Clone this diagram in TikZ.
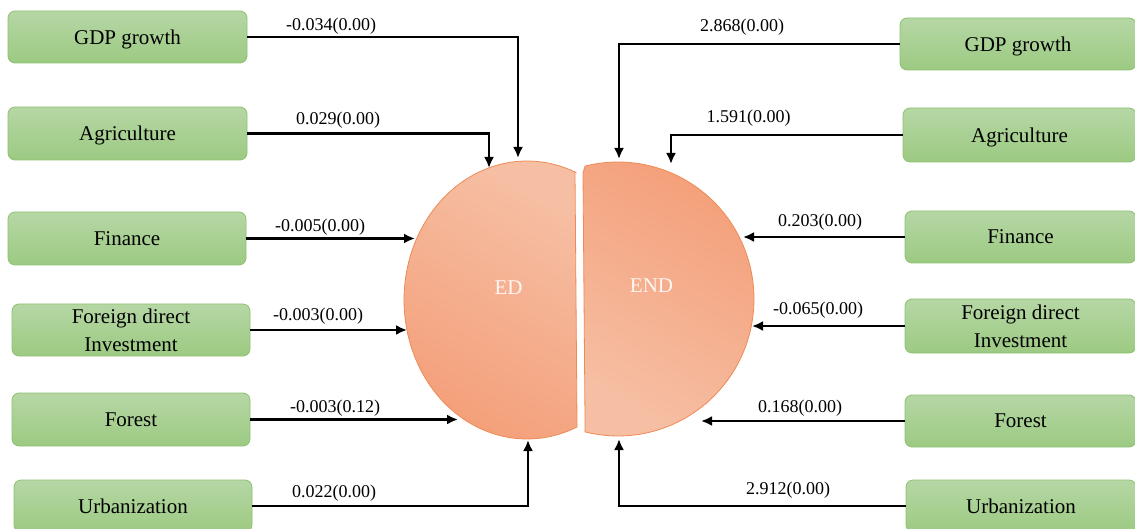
\documentclass[tikz,border=0pt]{standalone}
\usepackage{fontspec}
\setmainfont{Liberation Serif}
\usetikzlibrary{arrows.meta}
\definecolor{gtop}{HTML}{B6D7A5}
\definecolor{gbot}{HTML}{9CCA82}
\definecolor{gline}{HTML}{8EC171}
\definecolor{olight}{HTML}{F6BFA4}
\definecolor{odark}{HTML}{F4A07A}
\definecolor{oline}{HTML}{EF8B55}
\definecolor{otext}{HTML}{FFF6F1}
\tikzset{
  vbox/.style={draw=gline, line width=0.8pt, rounded corners=7pt, top color=gtop, bottom color=gbot,
    minimum height=52pt, align=center, font=\fontsize{21}{28}\selectfont, inner sep=0pt, text depth=0pt},
  coef/.style={font=\fontsize{18}{20}\selectfont, inner sep=0pt},
  arr/.style={draw=black, line width=2.6pt, -{Latex[length=11pt,width=10pt]}},
  halfL/.style={draw=oline, line width=0.8pt, top color=olight, bottom color=odark, shading angle=-30},
  halfR/.style={draw=oline, line width=0.8pt, top color=odark, bottom color=olight, shading angle=-30},
  htext/.style={text=otext, font=\fontsize{21}{24}\selectfont, inner sep=0pt},
}
\begin{document}
\begin{tikzpicture}[x=1pt,y=-1pt]
\useasboundingbox (0,0) rectangle (1135,529);

% two halves
\path[halfL] (575,172) -- plot[domain=-67:-294, samples=100] ({527+123*cos(\x)},{300+139*sin(\x)}) -- cycle;
\path[halfR] (583,173) -- plot[domain=-104:104, samples=100] ({618+136*cos(\x)},{299+137*sin(\x)}) -- cycle;
\node[htext] (ed) at (508.5,288) {ED};
\node[htext] (end) at (651.5,286) {END};

% left boxes
\node[vbox, minimum width=239pt] (gl) at (127.5,37) {GDP growth};
\node[vbox, minimum width=239pt, minimum height=53pt] (al) at (127.5,133.5) {Agriculture};
\node[vbox, minimum width=238pt, minimum height=53pt] (fl) at (127,238.5) {Finance};
\node[vbox, minimum width=238pt] (dl) at (131,330) {Foreign direct\\Investment};
\node[vbox, minimum width=238pt, minimum height=53pt] (ol) at (131,419.5) {Forest};
\node[vbox, minimum width=238pt] (ul) at (133,506) {Urbanization};

% right boxes
\node[vbox, minimum width=236pt] (gr) at (1018,44) {GDP growth};
\node[vbox, minimum width=233pt, minimum height=54pt] (ar) at (1019.5,135) {Agriculture};
\node[vbox, minimum width=231pt] (fr) at (1020.5,237) {Finance};
\node[vbox, minimum width=231pt, minimum height=54pt] (dr) at (1020.5,326) {Foreign direct\\Investment};
\node[vbox, minimum width=231pt] (or) at (1020.5,421) {Forest};
\node[vbox, minimum width=230pt] (ur) at (1021,506) {Urbanization};

% arrow tips
\coordinate (t1) at (518,158);
\coordinate (t2) at (489,168);
\coordinate (t3) at (415,239);
\coordinate (t4) at (407,330);
\coordinate (t5) at (458,420);
\coordinate (t6) at (528,440);
\coordinate (t7) at (619,159);
\coordinate (t8) at (671,164);
\coordinate (t9) at (743,237);
\coordinate (t10) at (752,326);
\coordinate (t11) at (701,421);
\coordinate (t12) at (619,439);

% connectors
\draw[arr] (gl.east) -| (t1);
\draw[arr] (al.east) -| (t2);
\draw[arr] (fl.east) -- (fl.east -| t3);
\draw[arr] (dl.east) -- (dl.east -| t4);
\draw[arr] (ol.east) -- (ol.east -| t5);
\draw[arr] (ul.east) -| (t6);
\draw[arr] (gr.west) -| (t7);
\draw[arr] (ar.west) -| (t8);
\draw[arr] (fr.west) -- (fr.west -| t9);
\draw[arr] (dr.west) -- (dr.west -| t10);
\draw[arr] (or.west) -- (or.west -| t11);
\draw[arr] (ur.west) -| (t12);

% coefficients
\node[coef] (c1) at (331,26) {-0.034(0.00)};
\node[coef] (c2) at (338,120) {0.029(0.00)};
\node[coef] (c3) at (320,227) {-0.005(0.00)};
\node[coef] (c4) at (318,316) {-0.003(0.00)};
\node[coef] (c5) at (335,408) {-0.003(0.12)};
\node[coef] (c6) at (334,493) {0.022(0.00)};
\node[coef] (c7) at (742,27) {2.868(0.00)};
\node[coef] (c8) at (748.5,118) {1.591(0.00)};
\node[coef] (c9) at (820,222) {0.203(0.00)};
\node[coef] (c10) at (818,310) {-0.065(0.00)};
\node[coef] (c11) at (800,408) {0.168(0.00)};
\node[coef] (c12) at (788,490) {2.912(0.00)};
\end{tikzpicture}
\end{document}
